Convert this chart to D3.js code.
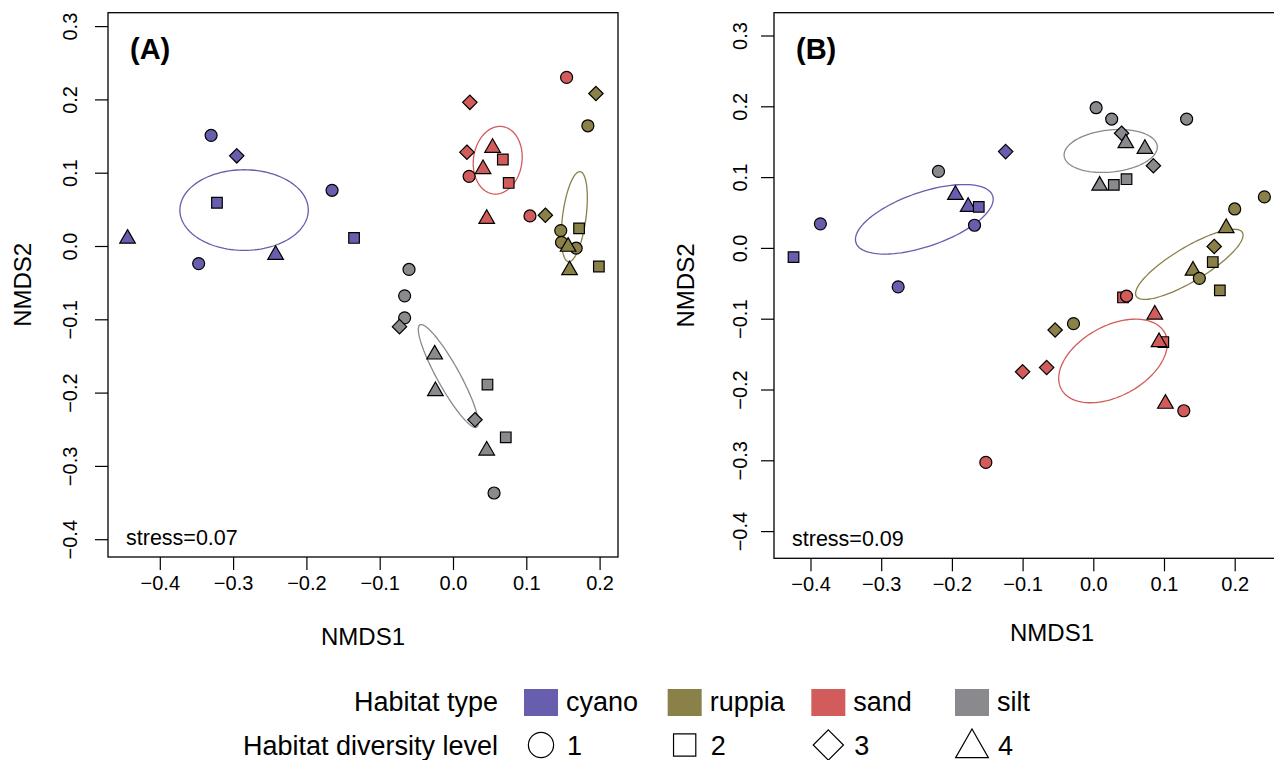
<!DOCTYPE html>
<html>
<head>
<meta charset="utf-8">
<script src="https://cdn.jsdelivr.net/npm/d3@7"></script>
<style>
body { margin: 0; background: #fff; }
text { font-family: "Liberation Sans", Arial, Helvetica, sans-serif; fill: #000; }
</style>
</head>
<body>
<div id="chart"></div>
<script>
// habitat types / diversity levels
var habitats = ["cyano", "ruppia", "sand", "silt"];
var habColors = ["#675ead", "#898147", "#d25b5c", "#8a8a8e"];
var levels = [1, 2, 3, 4];
var xTicks = [-0.4, -0.3, -0.2, -0.1, 0.0, 0.1, 0.2, 0.3];
var yTicks = [-0.4, -0.3, -0.2, -0.1, 0.0, 0.1, 0.2, 0.3];

// panel A: [habitat, level, NMDS1, NMDS2]
var pointsA = [
  ["cyano", 1, -0.330, 0.151], ["cyano", 3, -0.295, 0.123], ["cyano", 1, -0.165, 0.076],
  ["cyano", 2, -0.322, 0.059], ["cyano", 4, -0.444, 0.012], ["cyano", 1, -0.347, -0.024],
  ["cyano", 4, -0.242, -0.010], ["cyano", 2, -0.135, 0.011],
  ["sand", 1, 0.155, 0.230], ["sand", 3, 0.023, 0.196], ["sand", 3, 0.019, 0.128],
  ["sand", 4, 0.054, 0.136], ["sand", 2, 0.068, 0.118], ["sand", 1, 0.022, 0.095],
  ["sand", 4, 0.041, 0.107], ["sand", 2, 0.076, 0.086], ["sand", 4, 0.046, 0.039],
  ["sand", 1, 0.105, 0.041],
  ["ruppia", 3, 0.195, 0.208], ["ruppia", 1, 0.184, 0.164], ["ruppia", 3, 0.126, 0.042],
  ["ruppia", 2, 0.172, 0.024], ["ruppia", 1, 0.147, 0.021], ["ruppia", 1, 0.148, 0.005],
  ["ruppia", 1, 0.168, -0.003], ["ruppia", 4, 0.157, 0.001], ["ruppia", 4, 0.159, -0.031],
  ["ruppia", 2, 0.199, -0.028],
  ["silt", 1, -0.060, -0.032], ["silt", 1, -0.066, -0.068], ["silt", 1, -0.066, -0.098],
  ["silt", 3, -0.073, -0.110], ["silt", 4, -0.025, -0.146], ["silt", 4, -0.024, -0.196],
  ["silt", 2, 0.047, -0.189], ["silt", 3, 0.030, -0.237], ["silt", 2, 0.072, -0.261],
  ["silt", 4, 0.046, -0.277], ["silt", 1, 0.056, -0.337]
];
// [habitat, centre x, centre y, semi-major, semi-minor, angle deg]
var ellipsesA = [
  ["cyano", -0.285, 0.049, 0.0876, 0.055, 0],
  ["sand", 0.061, 0.117, 0.0464, 0.0331, 82],
  ["ruppia", 0.1655, 0.040, 0.0619, 0.016, 82.6],
  ["silt", -0.0064, -0.1774, 0.0798, 0.0153, 119]
];

// panel B
var pointsB = [
  ["cyano", 3, -0.124, 0.136], ["cyano", 4, -0.195, 0.077], ["cyano", 4, -0.177, 0.060],
  ["cyano", 2, -0.162, 0.058], ["cyano", 1, -0.168, 0.032], ["cyano", 1, -0.386, 0.034],
  ["cyano", 2, -0.424, -0.013], ["cyano", 1, -0.276, -0.055],
  ["silt", 1, -0.219, 0.108], ["silt", 1, 0.004, 0.198], ["silt", 1, 0.026, 0.182],
  ["silt", 1, 0.132, 0.182], ["silt", 3, 0.040, 0.162], ["silt", 4, 0.046, 0.150],
  ["silt", 4, 0.073, 0.142], ["silt", 3, 0.085, 0.116], ["silt", 4, 0.009, 0.090],
  ["silt", 2, 0.029, 0.089], ["silt", 2, 0.047, 0.097],
  ["ruppia", 1, 0.242, 0.072], ["ruppia", 1, 0.200, 0.055], ["ruppia", 4, 0.188, 0.030],
  ["ruppia", 3, 0.171, 0.002], ["ruppia", 2, 0.169, -0.020], ["ruppia", 4, 0.141, -0.030],
  ["ruppia", 1, 0.150, -0.043], ["ruppia", 2, 0.179, -0.060], ["ruppia", 3, -0.054, -0.116],
  ["ruppia", 1, -0.028, -0.107],
  ["sand", 2, 0.042, -0.070], ["sand", 1, 0.047, -0.068], ["sand", 4, 0.087, -0.092],
  ["sand", 2, 0.099, -0.133], ["sand", 4, 0.093, -0.131], ["sand", 3, -0.066, -0.169],
  ["sand", 3, -0.100, -0.175], ["sand", 4, 0.102, -0.218], ["sand", 1, 0.128, -0.230],
  ["sand", 1, -0.152, -0.303]
];
var ellipsesB = [
  ["cyano", -0.239, 0.0404, 0.1022, 0.0382, 19],
  ["silt", 0.0246, 0.1369, 0.0662, 0.0297, 6],
  ["ruppia", 0.1358, -0.0232, 0.0875, 0.024, 31],
  ["sand", 0.0279, -0.1597, 0.0833, 0.0495, 28.7]
];

var panelNames = ["(A)", "(B)"];
var stressLabels = ["stress=0.07", "stress=0.09"];

var color = d3.scaleOrdinal().domain(habitats).range(habColors);

var W = 1274, H = 760;
var svg = d3.select("#chart").append("svg")
  .attr("width", W)
  .attr("height", H)
  .style("background", "#fff");

// marker outline for a diversity level, s = size factor
function shapePath(level, s) {
  var p = d3.path();
  if (level == 1) {
    p.arc(0, 0, 6 * s, 0, 2 * Math.PI);
  } else if (level == 2) {
    p.rect(-5.3 * s, -5.3 * s, 10.6 * s, 10.6 * s);
  } else if (level == 3) {
    p.moveTo(0, -7.2 * s); p.lineTo(7.2 * s, 0); p.lineTo(0, 7.2 * s); p.lineTo(-7.2 * s, 0); p.closePath();
  } else {
    p.moveTo(0, -7.6 * s); p.lineTo(7.8 * s, 6 * s); p.lineTo(-7.8 * s, 6 * s); p.closePath();
  }
  return p.toString();
}

function drawPanel(cfg) {
  var x = d3.scaleLinear()
    .domain([(cfg.left - cfg.x0) / cfg.ux, (cfg.right - cfg.x0) / cfg.ux])
    .range([cfg.left, cfg.right]);
  var y = d3.scaleLinear()
    .domain([(cfg.y0 - cfg.bottom) / cfg.uy, (cfg.y0 - cfg.top) / cfg.uy])
    .range([cfg.bottom, cfg.top]);

  // only ticks that fall inside the box and the page
  var xt = xTicks.filter(function(v) { return x(v) >= cfg.left && x(v) <= Math.min(cfg.right, W - 20); });
  var yt = yTicks.filter(function(v) { return y(v) >= cfg.top && y(v) <= cfg.bottom; });

  var g = svg.append("g");

  // x axis
  var xa = g.append("g")
    .attr("transform", "translate(0," + cfg.bottom + ")")
    .call(d3.axisBottom(x).tickValues(xt).tickSize(13).tickPadding(cfg.xPad).tickFormat(d3.format(".1f")));
  xa.select(".domain").remove();
  xa.selectAll("line").attr("stroke", "#000").attr("stroke-width", 1.2);
  xa.selectAll("text").attr("font-size", 20).attr("font-family", null).attr("fill", "#000");

  // y axis, labels turned like R
  var ya = g.append("g")
    .attr("transform", "translate(" + cfg.left + ",0)")
    .call(d3.axisLeft(y).tickValues(yt).tickSize(13).tickFormat(d3.format(".1f")));
  ya.select(".domain").remove();
  ya.selectAll("line").attr("stroke", "#000").attr("stroke-width", 1.2);
  ya.selectAll("text")
    .attr("font-size", 20).attr("font-family", null).attr("fill", "#000")
    .attr("x", null).attr("dy", null)
    .attr("text-anchor", "middle")
    .attr("transform", "translate(" + (-cfg.yLab) + ",0) rotate(-90)");

  // axis titles
  g.append("text")
    .attr("x", (cfg.left + cfg.right) / 2)
    .attr("y", cfg.xTitleY)
    .attr("text-anchor", "middle")
    .attr("font-size", 24)
    .text("NMDS1");
  g.append("text")
    .attr("transform", "translate(" + cfg.yTitleX + "," + (cfg.top + cfg.bottom) / 2 + ") rotate(-90)")
    .attr("text-anchor", "middle")
    .attr("font-size", 24)
    .text("NMDS2");

  // ellipses
  var line = d3.line().curve(d3.curveLinearClosed);
  g.selectAll(".ell")
    .data(cfg.ellipses)
    .enter().append("path")
    .attr("class", "ell")
    .attr("fill", "none")
    .attr("stroke", function(d) { return color(d[0]); })
    .attr("stroke-width", 1.3)
    .attr("d", function(d) {
      var th = d[5] * Math.PI / 180, pts = [];
      for (var i = 0; i < 120; i++) {
        var t = i / 120 * 2 * Math.PI;
        var ex = d[1] + d[3] * Math.cos(t) * Math.cos(th) - d[4] * Math.sin(t) * Math.sin(th);
        var ey = d[2] + d[3] * Math.cos(t) * Math.sin(th) + d[4] * Math.sin(t) * Math.cos(th);
        pts.push([x(ex), y(ey)]);
      }
      return line(pts);
    });

  // points
  g.selectAll(".pt")
    .data(cfg.points)
    .enter().append("path")
    .attr("class", "pt")
    .attr("transform", function(d) { return "translate(" + x(d[2]) + "," + y(d[3]) + ")"; })
    .attr("d", function(d) { return shapePath(d[1], 1); })
    .attr("fill", function(d) { return color(d[0]); })
    .attr("stroke", "#000")
    .attr("stroke-width", 1.2);

  // box
  g.append("rect")
    .attr("x", cfg.left).attr("y", cfg.top)
    .attr("width", cfg.right - cfg.left).attr("height", cfg.bottom - cfg.top)
    .attr("fill", "none").attr("stroke", "#000").attr("stroke-width", 1.3);

  g.append("text")
    .attr("x", cfg.left + 22).attr("y", cfg.top + 46)
    .attr("font-size", 29).attr("font-weight", "bold")
    .text(cfg.name);
  g.append("text")
    .attr("x", cfg.left + 18).attr("y", cfg.bottom - 12)
    .attr("font-size", 21.5)
    .text(cfg.stress);
}

drawPanel({ left: 108, right: 618, top: 12.7, bottom: 557, x0: 453, y0: 246, ux: 733, uy: 733,
  xPad: 6, yLab: 31, xTitleY: 645, yTitleX: 31,
  points: pointsA, ellipses: ellipsesA, name: panelNames[0], stress: stressLabels[0] });
drawPanel({ left: 774, right: 1330, top: 12.7, bottom: 558.3, x0: 1093.3, y0: 247.9, ux: 707, uy: 708,
  xPad: 6, yLab: 27, xTitleY: 641, yTitleX: 694,
  points: pointsB, ellipses: ellipsesB, name: panelNames[1], stress: stressLabels[1] });

// legend
var leg = svg.append("g");
leg.append("text").attr("x", 498).attr("y", 711).attr("text-anchor", "end")
  .attr("font-size", 27).text("Habitat type");
leg.append("text").attr("x", 498).attr("y", 755).attr("text-anchor", "end")
  .attr("font-size", 27).text("Habitat diversity level");

var legX = d3.scalePoint().domain(d3.range(4)).range([524, 955]);

leg.selectAll(".sw")
  .data(habitats)
  .enter().append("rect")
  .attr("x", function(d, i) { return legX(i); })
  .attr("y", 689)
  .attr("width", 34).attr("height", 27)
  .attr("fill", function(d) { return color(d); });
leg.selectAll(".swt")
  .data(habitats)
  .enter().append("text")
  .attr("x", function(d, i) { return legX(i) + 42; })
  .attr("y", 711)
  .attr("font-size", 27)
  .text(function(d) { return d; });

leg.selectAll(".sh")
  .data(levels)
  .enter().append("path")
  .attr("transform", function(d, i) { return "translate(" + (legX(i) + 17) + ",745)"; })
  .attr("d", function(d) { return shapePath(d, 2.1); })
  .attr("fill", "none")
  .attr("stroke", "#000")
  .attr("stroke-width", 1.2);
leg.selectAll(".sht")
  .data(levels)
  .enter().append("text")
  .attr("x", function(d, i) { return legX(i) + 43; })
  .attr("y", 755)
  .attr("font-size", 27)
  .text(function(d) { return d; });
</script>
</body>
</html>
